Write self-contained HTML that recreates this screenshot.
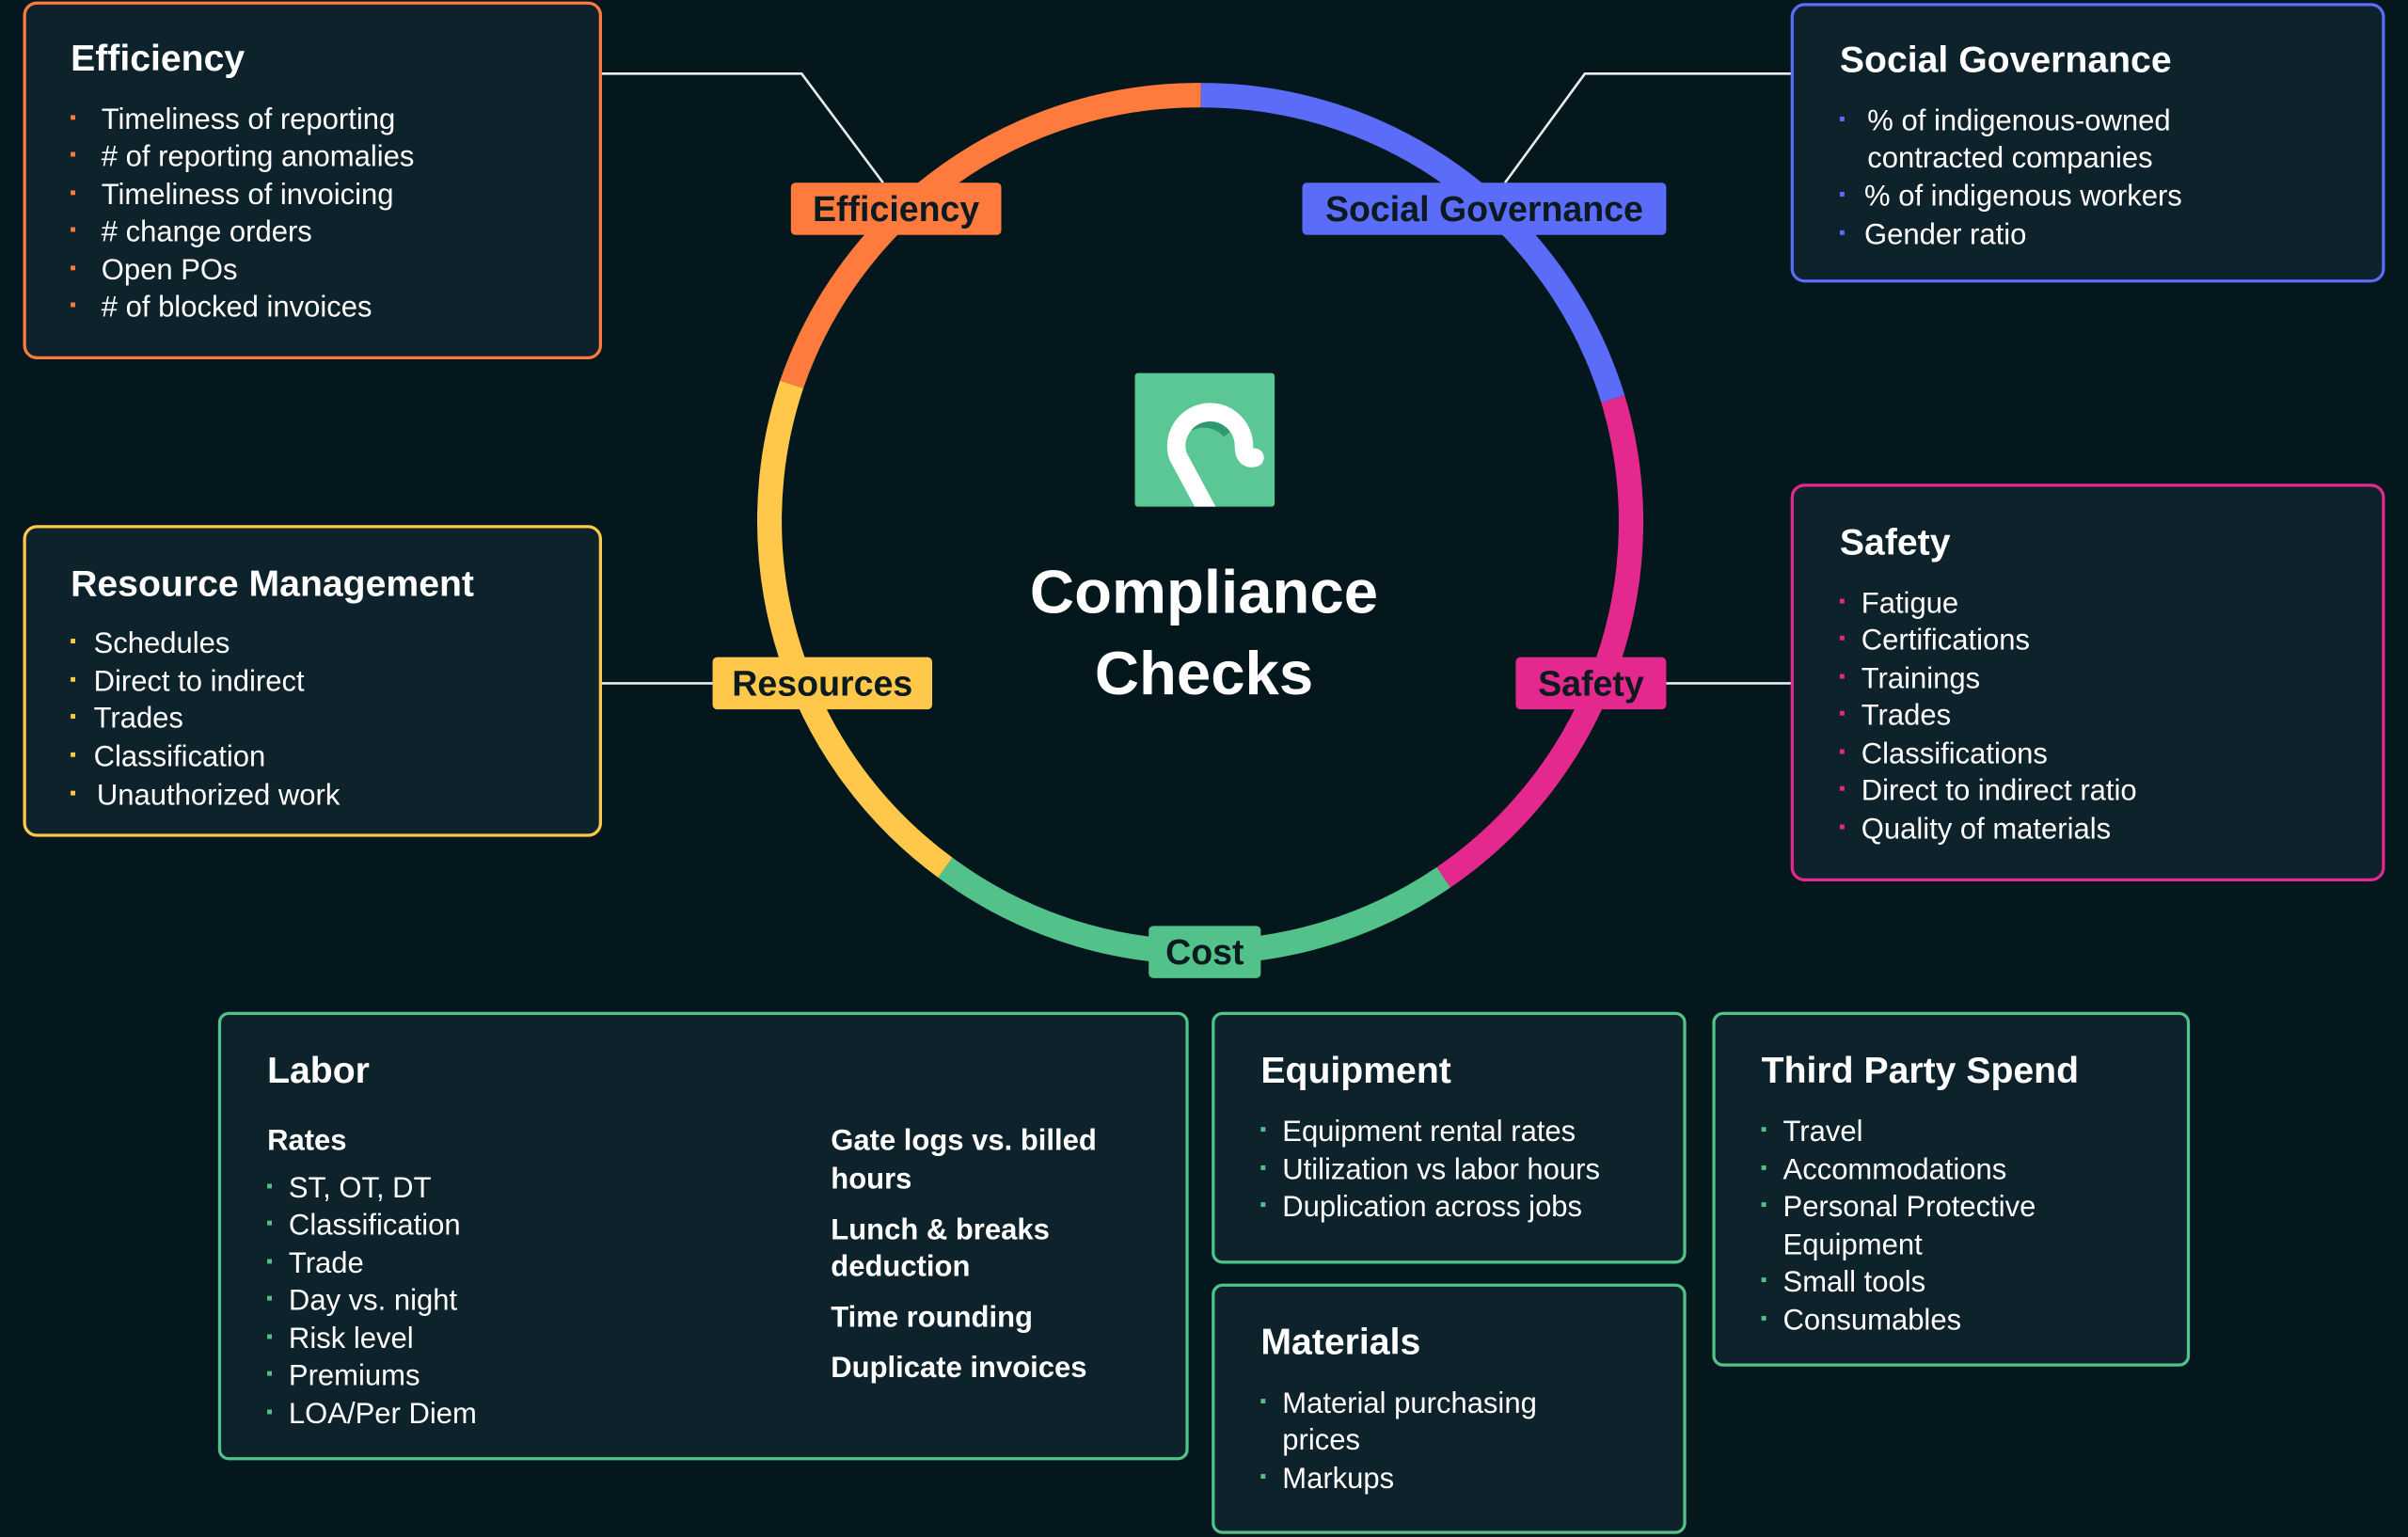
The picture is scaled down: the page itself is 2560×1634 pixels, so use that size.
<!DOCTYPE html>
<html><head><meta charset="utf-8"><style>
html,body{margin:0;padding:0;background:#03171d;}
svg{display:block;}
text{font-family:"Liberation Sans",sans-serif;}
.t{font-size:24px;font-weight:bold;fill:#fff;}
.i{font-size:19px;fill:#fff;}
.b{font-size:19px;fill:#fff;font-weight:bold;}
.p{font-size:23px;font-weight:bold;fill:#0a1a1f;}
</style></head><body>
<svg width="2560" height="1634" viewBox="0 0 1568 1001" preserveAspectRatio="none" xmlns="http://www.w3.org/2000/svg">
<rect width="1568" height="1001" fill="#03171d"/>
<g stroke="#e8eef0" stroke-width="1.6" fill="none">
<polyline points="391,48 522,48 575,119"/>
<polyline points="1167,48 1032,48 980,119"/>
<line x1="391" y1="445" x2="464" y2="445"/>
<line x1="1085" y1="445" x2="1167" y2="445"/>
</g>
<g fill="none" stroke-width="16">
<path d="M515.5 250.4 A280 280 0 0 1 782 62" stroke="#ff7a3d"/>
<path d="M782 62 A280 280 0 0 1 1050.3 259.8" stroke="#5b6cf9"/>
<path d="M1050.3 259.8 A280 280 0 0 1 940 571.4" stroke="#e5288e"/>
<path d="M940 571.4 A280 280 0 0 1 615.5 565" stroke="#52c18a"/>
<path d="M615.5 565 A280 280 0 0 1 515.5 250.4" stroke="#ffc84a"/>
</g>
<rect x="515" y="119" width="137" height="34" rx="3" fill="#ff7a3d"/><text class="p" x="583.5" y="144" text-anchor="middle">Efficiency</text>
<rect x="848" y="119" width="237" height="34" rx="3" fill="#5b6cf9"/><text class="p" x="966.5" y="144" text-anchor="middle">Social Governance</text>
<rect x="464" y="428" width="143" height="34" rx="3" fill="#ffc84a"/><text class="p" x="535.5" y="453" text-anchor="middle">Resources</text>
<rect x="987" y="428" width="98" height="34" rx="3" fill="#e5288e"/><text class="p" x="1036" y="453" text-anchor="middle">Safety</text>
<rect x="748" y="603" width="73" height="34" rx="3" fill="#52c18a"/><text class="p" x="784.5" y="628" text-anchor="middle">Cost</text>
<defs><clipPath id="lc"><rect x="739" y="243" width="91" height="87" rx="2"/></clipPath></defs>
<rect x="739" y="243" width="91" height="87" rx="2" fill="#5ac795"/>
<g clip-path="url(#lc)">
<path d="M764 290 A20 18 0 0 1 800 282" stroke="#2e9a6e" stroke-width="8" fill="none"/>
<path d="M788 336 L767 297 A22 22 0 1 1 810 290 Q810 300 817 298" stroke="#fff" stroke-width="12" fill="none" stroke-linecap="round" stroke-linejoin="round"/>
</g>
<text x="784" y="399" text-anchor="middle" style="font-size:40px;font-weight:bold;fill:#fff">Compliance</text>
<text x="784" y="452" text-anchor="middle" style="font-size:40px;font-weight:bold;fill:#fff">Checks</text>
<g fill="#0e222b" stroke-width="2">
<rect x="16" y="2" width="375" height="231" rx="8" stroke="#ff7a3d"/>
<rect x="1167" y="3" width="385" height="180" rx="8" stroke="#5b6cf9"/>
<rect x="16" y="343" width="375" height="201" rx="8" stroke="#ffc84a"/>
<rect x="1167" y="316" width="385" height="257" rx="8" stroke="#e5288e"/>
<rect x="143" y="660" width="630" height="290" rx="6" stroke="#52c18a"/>
<rect x="790" y="660" width="307" height="162" rx="6" stroke="#52c18a"/>
<rect x="790" y="837" width="307" height="161" rx="6" stroke="#52c18a"/>
<rect x="1116" y="660" width="309" height="229" rx="6" stroke="#52c18a"/>
</g>
<text class="t" x="46" y="46">Efficiency</text>
<g fill="#ff7a3d"><rect x="46" y="75" width="3" height="3"/><rect x="46" y="99" width="3" height="3"/><rect x="46" y="124" width="3" height="3"/><rect x="46" y="148" width="3" height="3"/><rect x="46" y="173" width="3" height="3"/><rect x="46" y="197" width="3" height="3"/></g>
<text class="i" x="66" y="84">Timeliness of reporting</text>
<text class="i" x="66" y="108"># of reporting anomalies</text>
<text class="i" x="66" y="133">Timeliness of invoicing</text>
<text class="i" x="66" y="157"># change orders</text>
<text class="i" x="66" y="182">Open POs</text>
<text class="i" x="66" y="206"># of blocked invoices</text>
<text class="t" x="1198" y="47">Social Governance</text>
<g fill="#5b6cf9"><rect x="1198" y="76" width="3" height="3"/><rect x="1198" y="125" width="3" height="3"/><rect x="1198" y="150" width="3" height="3"/></g>
<text class="i" x="1216" y="85">% of indigenous-owned</text>
<text class="i" x="1216" y="109">contracted companies</text>
<text class="i" x="1214" y="134">% of indigenous workers</text>
<text class="i" x="1214" y="159">Gender ratio</text>
<text class="t" x="46" y="388">Resource Management</text>
<g fill="#ffc84a"><rect x="46" y="416" width="3" height="3"/><rect x="46" y="441" width="3" height="3"/><rect x="46" y="465" width="3" height="3"/><rect x="46" y="490" width="3" height="3"/><rect x="46" y="515" width="3" height="3"/></g>
<text class="i" x="61" y="425">Schedules</text>
<text class="i" x="61" y="450">Direct to indirect</text>
<text class="i" x="61" y="474">Trades</text>
<text class="i" x="61" y="499">Classification</text>
<text class="i" x="63" y="524">Unauthorized work</text>
<text class="t" x="1198" y="361">Safety</text>
<g fill="#e5288e"><rect x="1198" y="390" width="3" height="3"/><rect x="1198" y="414" width="3" height="3"/><rect x="1198" y="439" width="3" height="3"/><rect x="1198" y="463" width="3" height="3"/><rect x="1198" y="488" width="3" height="3"/><rect x="1198" y="512" width="3" height="3"/><rect x="1198" y="537" width="3" height="3"/></g>
<text class="i" x="1212" y="399">Fatigue</text>
<text class="i" x="1212" y="423">Certifications</text>
<text class="i" x="1212" y="448">Trainings</text>
<text class="i" x="1212" y="472">Trades</text>
<text class="i" x="1212" y="497">Classifications</text>
<text class="i" x="1212" y="521">Direct to indirect ratio</text>
<text class="i" x="1212" y="546">Quality of materials</text>
<text class="t" x="174" y="705">Labor</text>
<text class="b" x="174" y="749">Rates</text>
<g fill="#52c18a"><rect x="174" y="771" width="3" height="3"/><rect x="174" y="795" width="3" height="3"/><rect x="174" y="820" width="3" height="3"/><rect x="174" y="844" width="3" height="3"/><rect x="174" y="869" width="3" height="3"/><rect x="174" y="893" width="3" height="3"/><rect x="174" y="918" width="3" height="3"/></g>
<text class="i" x="188" y="780">ST, OT, DT</text>
<text class="i" x="188" y="804">Classification</text>
<text class="i" x="188" y="829">Trade</text>
<text class="i" x="188" y="853">Day vs. night</text>
<text class="i" x="188" y="878">Risk level</text>
<text class="i" x="188" y="902">Premiums</text>
<text class="i" x="188" y="927">LOA/Per Diem</text>
<text class="b" x="541" y="749">Gate logs vs. billed</text>
<text class="b" x="541" y="774">hours</text>
<text class="b" x="541" y="807">Lunch &amp; breaks</text>
<text class="b" x="541" y="831">deduction</text>
<text class="b" x="541" y="864">Time rounding</text>
<text class="b" x="541" y="897">Duplicate invoices</text>
<text class="t" x="821" y="705">Equipment</text>
<g fill="#52c18a"><rect x="821" y="734" width="3" height="3"/><rect x="821" y="759" width="3" height="3"/><rect x="821" y="783" width="3" height="3"/></g>
<text class="i" x="835" y="743">Equipment rental rates</text>
<text class="i" x="835" y="768">Utilization vs labor hours</text>
<text class="i" x="835" y="792">Duplication across jobs</text>
<text class="t" x="821" y="882">Materials</text>
<g fill="#52c18a"><rect x="821" y="911" width="3" height="3"/><rect x="821" y="960" width="3" height="3"/></g>
<text class="i" x="835" y="920">Material purchasing</text>
<text class="i" x="835" y="944">prices</text>
<text class="i" x="835" y="969">Markups</text>
<text class="t" x="1147" y="705">Third Party Spend</text>
<g fill="#52c18a"><rect x="1147" y="734" width="3" height="3"/><rect x="1147" y="759" width="3" height="3"/><rect x="1147" y="783" width="3" height="3"/><rect x="1147" y="832" width="3" height="3"/><rect x="1147" y="857" width="3" height="3"/></g>
<text class="i" x="1161" y="743">Travel</text>
<text class="i" x="1161" y="768">Accommodations</text>
<text class="i" x="1161" y="792">Personal Protective</text>
<text class="i" x="1161" y="817">Equipment</text>
<text class="i" x="1161" y="841">Small tools</text>
<text class="i" x="1161" y="866">Consumables</text>
</svg>
</body></html>
